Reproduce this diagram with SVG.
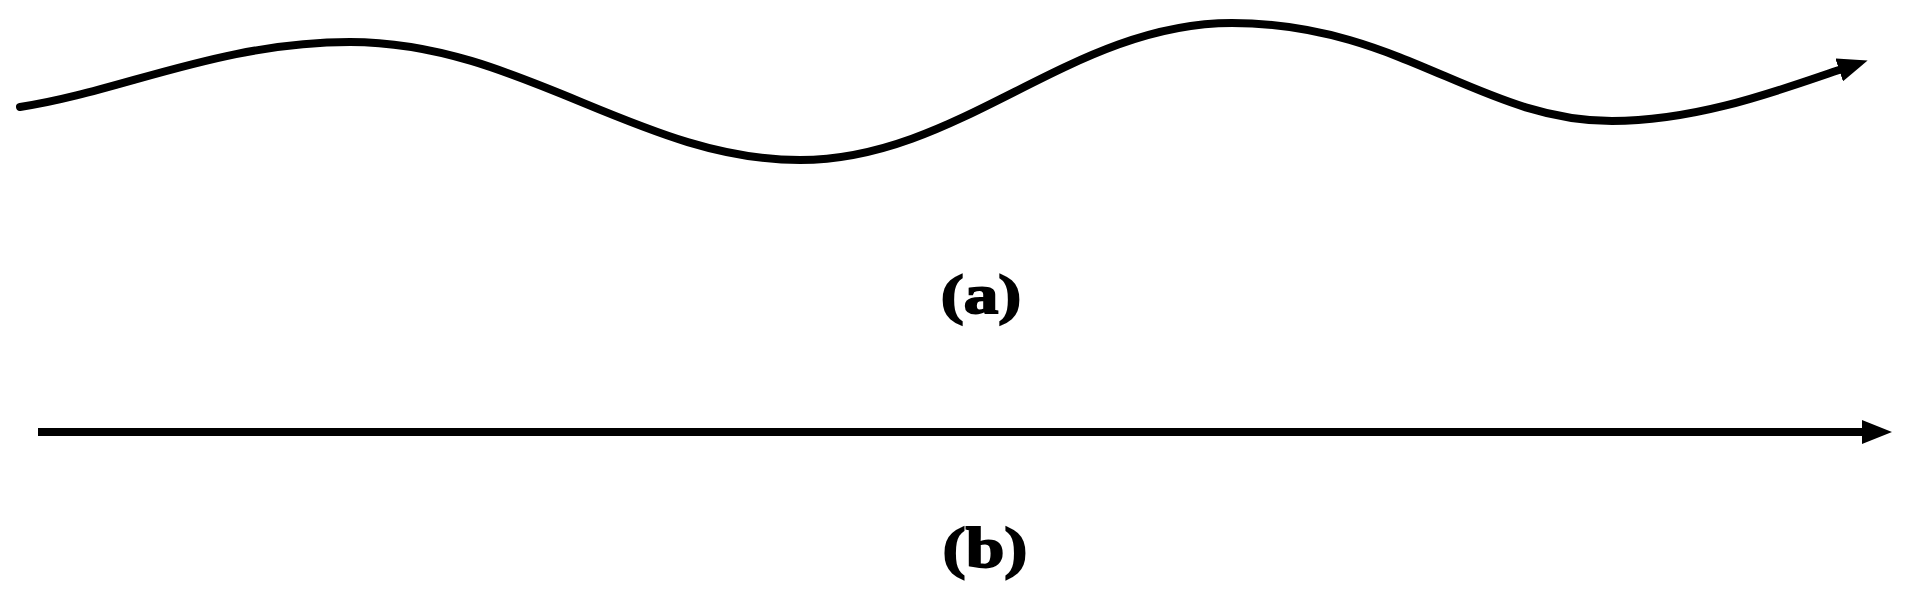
<svg xmlns="http://www.w3.org/2000/svg" width="1912" height="600" viewBox="0 0 1912 600">
<style>
.ln{fill:none;stroke:#000;stroke-width:8;stroke-linecap:round}
.lbl{font-family:"Liberation Serif","Times New Roman",serif;font-weight:bold;fill:#000;stroke:#000;stroke-width:1.8;text-anchor:middle}
</style>
<defs>
<marker id="ah" markerUnits="userSpaceOnUse" viewBox="0 0 30 24" refX="3" refY="12" markerWidth="30" markerHeight="24" orient="auto">
<path d="M0,0 L30,12 L0,24 z" fill="#000"/>
</marker>
</defs>
<rect width="1912" height="600" fill="#fff"/>
<g id="connectors">
<path id="wave" class="ln" marker-end="url(#ah)" d="M20,107 C120,92 220,42 350,42 C520,42 640,160 800,160 C960,160 1070,23 1232,23 C1400,23 1480,121 1612,121 C1700,121 1785,88 1842,69"/>
<path id="straight" class="ln" style="stroke-linecap:butt" marker-end="url(#ah)" d="M38,432 L1865,432"/>
</g>
<g id="label-a"><text class="lbl" font-size="54" transform="translate(981,313) scale(1.28,1)" x="0" y="0">(a)</text></g>
<g id="label-b"><text class="lbl" font-size="57" transform="translate(985,567) scale(1.22,1)" x="0" y="0">(b)</text></g>
</svg>
